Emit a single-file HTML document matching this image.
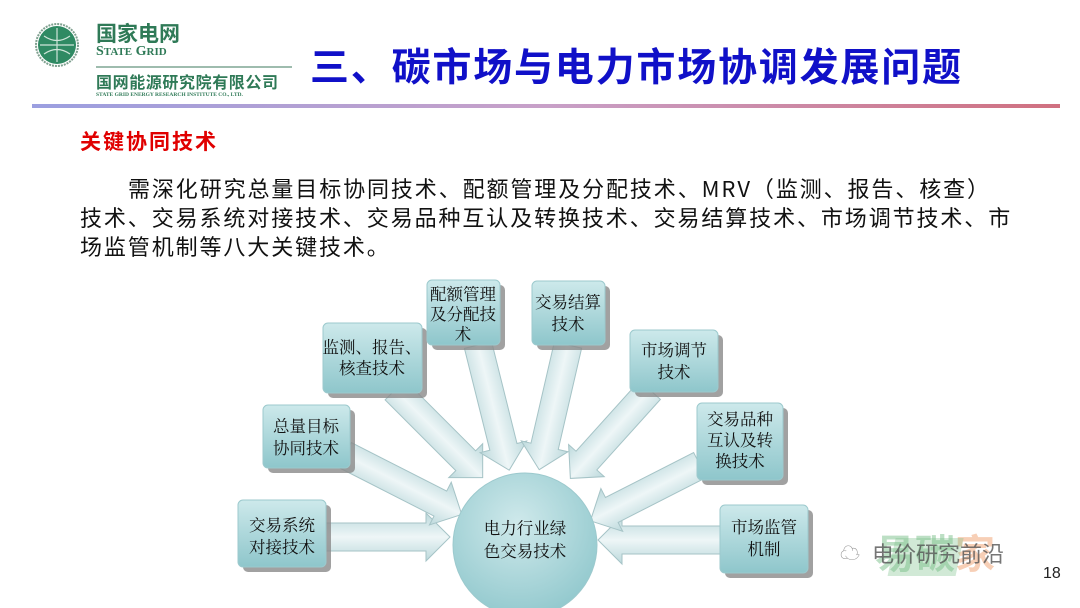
<!DOCTYPE html>
<html><head><meta charset="utf-8"><style>
body{margin:0;width:1080px;height:608px;background:#fff;overflow:hidden;font-family:"Liberation Sans","Noto Sans CJK SC",sans-serif;position:relative}
.t{position:absolute;white-space:nowrap}
</style></head><body>
<svg width="1080" height="608" style="position:absolute;left:0;top:0">
<defs>
<linearGradient id="ln" x1="0" x2="1"><stop offset="0" stop-color="#9b9fe0"/><stop offset="0.5" stop-color="#c8a0c8"/><stop offset="1" stop-color="#d07080"/></linearGradient>
<linearGradient id="bx" x1="0" y1="0" x2="0" y2="1"><stop offset="0" stop-color="#cde9eb"/><stop offset="1" stop-color="#8ec6cb"/></linearGradient>
<radialGradient id="cg" cx="0.45" cy="0.35" r="0.7"><stop offset="0" stop-color="#cfe9eb"/><stop offset="1" stop-color="#8fc7cc"/></radialGradient>
<linearGradient id="ar" x1="0" y1="0" x2="0" y2="1"><stop offset="0" stop-color="#bcd9dc"/><stop offset="0.5" stop-color="#eef6f7"/><stop offset="1" stop-color="#bcd9dc"/></linearGradient>
</defs>
<circle cx="57" cy="45" r="19" fill="#2f8a63"/>
<circle cx="57" cy="45" r="21" fill="none" stroke="#7fa08f" stroke-width="2" stroke-dasharray="2 1"/>
<path d="M40 45 H74 M57 28 V62 M44 36 Q57 45 70 36 M44 54 Q57 45 70 54" stroke="#cfe5d9" stroke-width="1.2" fill="none"/>
<line x1="96" y1="67" x2="292" y2="67" stroke="#3c7a5c" stroke-width="1"/>
<rect x="32" y="104" width="1028" height="4" fill="url(#ln)"/>
<g fill="url(#ar)" stroke="#a5c3c6" stroke-width="1">
<g transform="translate(326,537) rotate(0)"><path d="M0 -14 H100 V-24 L124 0 L100 24 V14 H0Z"/></g>
<g transform="translate(720,540) rotate(180)"><path d="M0 -14 H98 V-24 L122 0 L98 24 V14 H0Z"/></g>
<g transform="translate(345,455) rotate(27)"><path d="M0 -14 H107 V-24 L131 0 L107 24 V14 H0Z"/></g>
<g transform="translate(395,390) rotate(45)"><path d="M0 -14 H100 V-24 L124 0 L100 24 V14 H0Z"/></g>
<g transform="translate(478,345) rotate(76)"><path d="M0 -14 H105 V-24 L129 0 L105 24 V14 H0Z"/></g>
<g transform="translate(568,345) rotate(103)"><path d="M0 -14 H104 V-24 L128 0 L104 24 V14 H0Z"/></g>
<g transform="translate(650,390) rotate(132)"><path d="M0 -14 H95 V-24 L119 0 L95 24 V14 H0Z"/></g>
<g transform="translate(700,465) rotate(153)"><path d="M0 -14 H99 V-24 L123 0 L99 24 V14 H0Z"/></g>
</g>
<g fill="#8a8a8a" opacity="0.8">
<rect x="432" y="285" width="73" height="65" rx="5"/>
<rect x="537" y="286" width="73" height="64" rx="5"/>
<rect x="328" y="328" width="99" height="70" rx="5"/>
<rect x="635" y="335" width="88" height="62" rx="5"/>
<rect x="268" y="410" width="87" height="63" rx="5"/>
<rect x="702" y="408" width="86" height="77" rx="5"/>
<rect x="243" y="505" width="88" height="67" rx="5"/>
<rect x="725" y="510" width="88" height="68" rx="5"/>
</g>
<g fill="url(#bx)" stroke="#9cc9cd" stroke-width="1">
<rect x="427" y="280" width="73" height="65" rx="5"/>
<rect x="532" y="281" width="73" height="64" rx="5"/>
<rect x="323" y="323" width="99" height="70" rx="5"/>
<rect x="630" y="330" width="88" height="62" rx="5"/>
<rect x="263" y="405" width="87" height="63" rx="5"/>
<rect x="697" y="403" width="86" height="77" rx="5"/>
<rect x="238" y="500" width="88" height="67" rx="5"/>
<rect x="720" y="505" width="88" height="68" rx="5"/>
</g>
<circle cx="525" cy="545" r="72" fill="url(#cg)" stroke="#9cc9cd"/>
<g font-family="Liberation Serif,Noto Serif CJK SC,serif" font-size="16.5" fill="#111" text-anchor="middle">
<text x="463" y="300">配额管理</text><text x="463" y="320">及分配技</text><text x="463" y="340">术</text>
<text x="568" y="308">交易结算</text><text x="568" y="330">技术</text>
<text x="372" y="353">监测、报告、</text><text x="372" y="374">核查技术</text>
<text x="674" y="356">市场调节</text><text x="674" y="378">技术</text>
<text x="306" y="432">总量目标</text><text x="306" y="454">协同技术</text>
<text x="740" y="425">交易品种</text><text x="740" y="446">互认及转</text><text x="740" y="467">换技术</text>
<text x="282" y="531">交易系统</text><text x="282" y="553">对接技术</text>
<text x="764" y="533">市场监管</text><text x="764" y="555">机制</text>
<text x="525" y="534">电力行业绿</text><text x="525" y="557">色交易技术</text>
</g>
<text x="875" y="568" font-size="40" fill="#7cc08a" opacity="0.5" font-weight="bold" font-family="Noto Sans CJK SC,sans-serif">易碳</text>
<text x="955" y="568" font-size="40" fill="#f0a070" opacity="0.5" font-weight="bold" font-family="Noto Sans CJK SC,sans-serif">家</text>
<rect x="1010" y="538" width="68" height="38" fill="#7cc08a" opacity="0.35" transform="skewX(-12)"/>
<text x="840" y="560" font-size="20" fill="#999">☁</text>
<text x="872" y="562" font-size="22" fill="#555" opacity="0.8" font-family="Noto Sans CJK SC,sans-serif">电价研究前沿</text>
<text x="1043" y="578" font-size="16" fill="#222">18</text>
</svg>
<div class="t" style="left:96px;top:20px;font-size:21px;font-weight:bold;color:#2f7a57;font-family:'Noto Sans CJK SC',sans-serif;line-height:26px">国家电网</div>
<div class="t" style="left:96px;top:44px;font-size:14px;font-weight:bold;color:#2f7a57;font-family:'Liberation Serif',serif">S<span style="font-size:11px">TATE</span> G<span style="font-size:11px">RID</span></div>
<div class="t" style="left:96px;top:71px;font-size:16px;font-weight:bold;color:#2f7a57;font-family:'Noto Sans CJK SC',sans-serif;line-height:20px;letter-spacing:0.6px">国网能源研究院有限公司</div>
<div class="t" style="left:96px;top:92px;font-size:5.5px;font-weight:bold;color:#2f7a57;font-family:'Liberation Serif',serif">STATE GRID ENERGY RESEARCH INSTITUTE CO., LTD.</div>
<div class="t" style="left:310px;top:38px;font-size:39px;font-weight:bold;color:#1010c8;font-family:'Noto Sans CJK SC',sans-serif;line-height:54px;letter-spacing:1.8px">三、碳市场与电力市场协调发展问题</div>
<div class="t" style="left:80px;top:126px;font-size:21px;font-weight:bold;color:#e00000;font-family:'Noto Sans CJK SC',sans-serif;line-height:30px;letter-spacing:2px">关键协同技术</div>
<div class="t" style="left:80px;top:174px;font-size:22px;color:#111;font-family:'Noto Sans CJK SC',sans-serif;line-height:29px;letter-spacing:1.9px">
<div style="padding-left:48px">需深化研究总量目标协同技术、配额管理及分配技术、MRV（监测、报告、核查）</div>
<div>技术、交易系统对接技术、交易品种互认及转换技术、交易结算技术、市场调节技术、市</div>
<div>场监管机制等八大关键技术。</div>
</div>
</body></html>
